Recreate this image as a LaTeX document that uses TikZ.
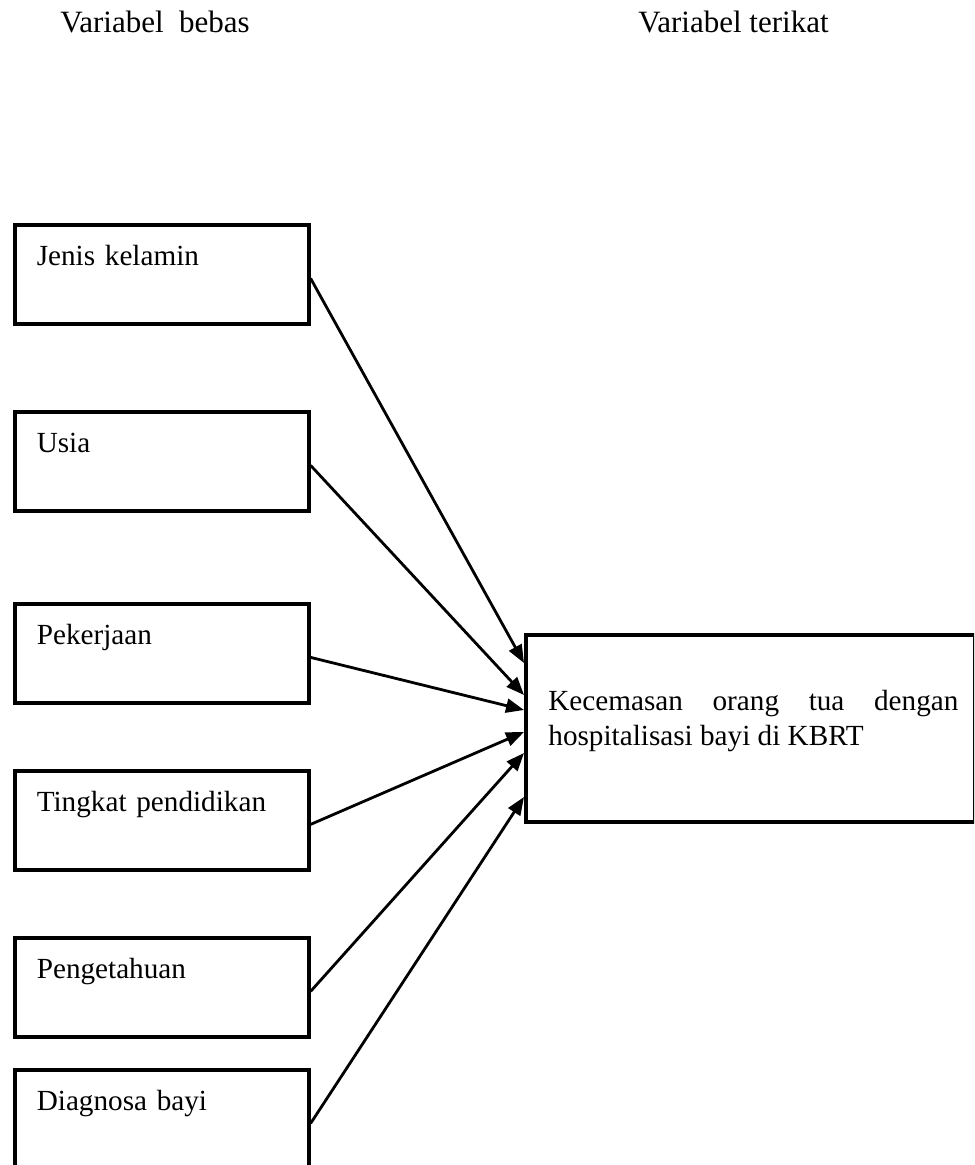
\documentclass[tikz,border=0pt]{standalone}
\usepackage{fontspec}
\setmainfont{Liberation Serif}
\usetikzlibrary{arrows.meta,calc}
\hbadness=10000
\tikzset{
  head/.style={inner sep=0pt,anchor=base west,font=\fontsize{15.5}{18}\selectfont},
  varbox/.style={draw,line width=1.8pt,anchor=north west,text width=125pt,
    inner xsep=11pt,inner ysep=4pt,text height=16.5pt,text depth=25pt,
    font=\fontsize{14.6}{17.5}\selectfont},
  dvbox/.style={draw,line width=1.8pt,anchor=north west,inner sep=0pt,
    minimum width=224.25pt,minimum height=93.5pt},
  conn/.style={line width=1.4pt,-{Triangle[length=9pt,width=7pt]}}
}
\begin{document}
\begin{tikzpicture}[x={(1pt,0)},y={(0,-1pt)},scale=0.5]
  \useasboundingbox (0,0) rectangle (974,1165);
  \clip (0,0) rectangle (974,1165);
  \node[head] (bebas) at (60,33) {Variabel~ bebas};
  \node[head] (terikat) at (638,33) {Variabel terikat};
  \node[dvbox] (dv) at (524,633) {};
  \node[anchor=base west,inner sep=0pt,text width=205pt,align=justify,
    font=\fontsize{14.6}{17.5}\selectfont] (dvtext) at (548,710)
    {Kecemasan orang tua dengan\linebreak hospitalisasi bayi di KBRT};
  \foreach \top/\ey/\lab [count=\i] in {223/663/Jenis kelamin,410/695/Usia,
    602/710/Pekerjaan,769/732/Tingkat pendidikan,936/753/Pengetahuan,
    1068/797/Diagnosa bayi}
  {
    \node[varbox] (V-\i) at (13,\top) {\lab};
    \coordinate (S-\i) at ($(V-\i.north east)!0.54!(V-\i.south east)$);
    \coordinate (E-\i) at (dv.west |- 0,\ey);
    \draw[conn] (S-\i) -- (E-\i);
  }
\end{tikzpicture}
\end{document}
